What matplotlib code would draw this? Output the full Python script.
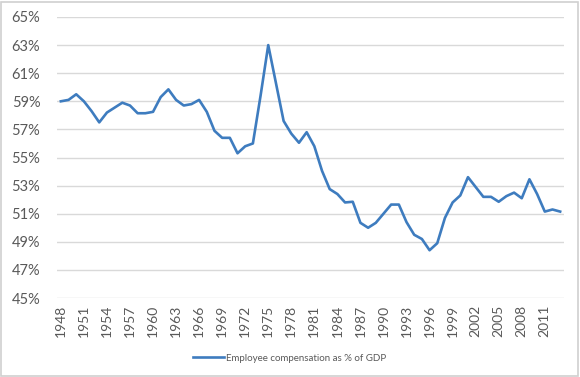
import matplotlib
matplotlib.use("Agg")
import matplotlib.pyplot as plt
from matplotlib.patches import Rectangle
from matplotlib.ticker import FuncFormatter

years = list(range(1948, 2014))
share = [59.0, 59.1, 59.5, 59.0, 58.3, 57.5, 58.2, 58.55, 58.9, 58.7,
         58.15, 58.15, 58.25, 59.3, 59.85, 59.1, 58.7, 58.8, 59.1, 58.25,
         56.9, 56.4, 56.4, 55.3, 55.8, 56.0, 59.4, 63.0, 60.3, 57.6,
         56.7, 56.05, 56.8, 55.8, 54.05, 52.75, 52.4, 51.8, 51.85, 50.35,
         50.0, 50.35, 51.0, 51.65, 51.65, 50.4, 49.5, 49.2, 48.4, 48.9,
         50.7, 51.8, 52.3, 53.6, 52.9, 52.2, 52.2, 51.85, 52.25, 52.5,
         52.1, 53.45, 52.4, 51.15, 51.3, 51.15]
series_label = "Employee compensation as % of GDP"
yticks = list(range(45, 66, 2))

plt.rcParams['font.family'] = ['Lato', 'DejaVu Sans']

fig = plt.figure(figsize=(5.8, 3.77), dpi=100)
ax = fig.add_axes([57/580, 79/377, 507/580, 281/377])

idx = list(range(len(years)))
line, = ax.plot(idx, share, color='#3E7CBF', linewidth=1.9,
                solid_joinstyle='round', label=series_label)

ax.set_xlim(-0.5, len(years) - 0.5)
ax.set_ylim(45, 65)
ax.set_yticks(yticks)
ax.yaxis.set_major_formatter(FuncFormatter(lambda v, p: f"{int(round(v))}%"))
ax.set_xticks(idx[::3])
ax.set_xticklabels([str(y) for y in years[::3]], rotation=90)

ax.grid(axis='y', color='#d9d9d9', linewidth=1.0)
ax.set_axisbelow(True)
for s in ax.spines.values():
    s.set_visible(False)
ax.tick_params(axis='both', length=0, colors='#595959', labelsize=10.5)
ax.tick_params(axis='y', pad=12)
ax.tick_params(axis='x', pad=5, labelsize=10)

leg = fig.legend(handles=[line], loc='center', bbox_to_anchor=(0.5, 0.05),
                 frameon=False, fontsize=7, handlelength=3.2,
                 handletextpad=0.2, labelcolor='#595959')

fig.patches.append(Rectangle((1/580, 1/377), 577/580, 374/377,
                             transform=fig.transFigure, fill=False,
                             edgecolor='#d0d0d0', linewidth=1.2))

fig.savefig("out.png", dpi=100)
